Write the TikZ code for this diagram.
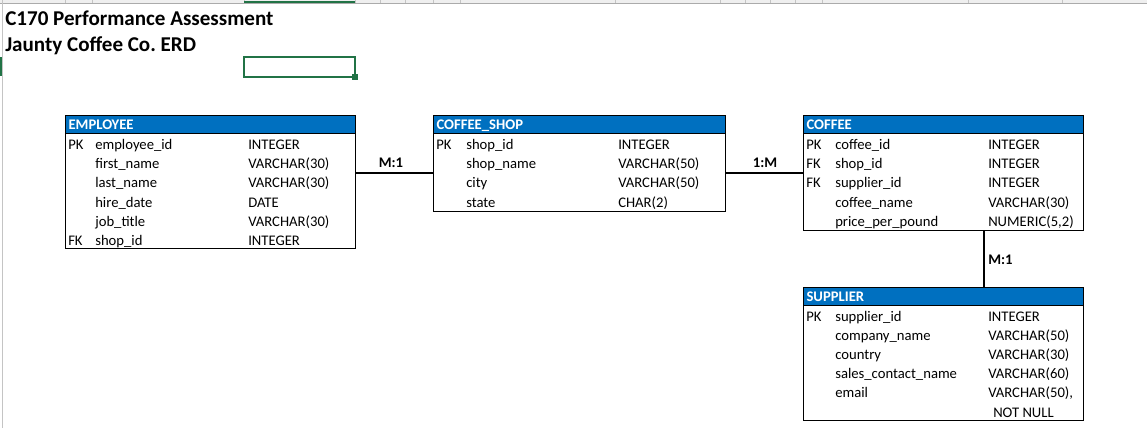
\documentclass[tikz,border=0pt]{standalone}
\usepackage{fontspec}
\setmainfont{Carlito}
\usepackage{tikz}
\usepackage{xcolor}
\usetikzlibrary{positioning}
\definecolor{hdrblue}{HTML}{0070C0}
\definecolor{selgreen}{HTML}{217346}
\definecolor{stripgray}{HTML}{EFEFEF}
\definecolor{rulegray}{HTML}{ABABAB}

\begin{document}
\begin{tikzpicture}[x=0.75pt, y=-0.75pt,
    tablebox/.style={draw=black, line width=0.8pt, rectangle, inner sep=0pt, anchor=north west},
    tablehead/.style={draw=black, line width=0.8pt, fill=hdrblue, rectangle, anchor=north west,
        inner xsep=2.25pt, inner ysep=0pt, minimum height=13.5pt, text height=8pt, text depth=0.5pt,
        align=left, text=white, font=\fontsize{11}{13}\selectfont\bfseries},
    cell/.style={anchor=base west, inner sep=0pt, font=\fontsize{11}{13}\selectfont},
    titletext/.style={anchor=base west, inner sep=0pt, font=\fontsize{15.8}{18}\selectfont\bfseries},
    relline/.style={line width=2pt},
    rellabel/.style={inner sep=0pt, font=\fontsize{11}{13}\selectfont\bfseries}]

    \useasboundingbox (0,0) rectangle (1147,428);

    % Spreadsheet frame: column header strip, row header edge, selected cell
    \fill[stripgray] (0,0) rectangle (1147,3.5);
    \draw[rulegray, line width=0.75pt] (0,3.5) -- (1147,3.5);
    \foreach \cx in {2,65,92,244,355,380,405,433,460,615,720,745,770,795,822,968,1062}
        \draw[rulegray!70, line width=0.5pt] (\cx,0) -- (\cx,3.5);
    \fill[selgreen] (244,1.5) rectangle (355,3.5);
    \draw[rulegray!70, line width=0.6pt] (2,3.5) -- (2,428);
    \fill[selgreen] (0,57) rectangle (2,76);
    \draw[selgreen, line width=1.5pt] (244,57) rectangle (355,77);
    \fill[selgreen] (352,74) rectangle (358,80);

    % Titles
    \node[titletext] (title1) at (5,26) {C170 Performance Assessment};
    \node[titletext] (title2) at (5,52) {Jaunty Coffee Co.\ ERD};

    % Table frames
    \node[tablebox, minimum width=217.5pt, minimum height=99.75pt] (employee) at (65,115) {};
    \node[tablebox, minimum width=219pt, minimum height=72pt] (coffeeshop) at (433,115) {};
    \node[tablebox, minimum width=210pt, minimum height=86.25pt] (coffee) at (803,115) {};
    \node[tablebox, minimum width=210pt, minimum height=99.75pt] (supplier) at (803,287) {};

    % Header bars
    \node[tablehead, text width=213pt] (employee-head) at (employee.north west) {EMPLOYEE};
    \node[tablehead, text width=214.5pt] (coffeeshop-head) at (coffeeshop.north west) {COFFEE\_SHOP};
    \node[tablehead, text width=205.5pt] (coffee-head) at (coffee.north west) {COFFEE};
    \node[tablehead, text width=205.5pt] (supplier-head) at (supplier.north west) {SUPPLIER};

    % EMPLOYEE rows
    \node[cell] (emp-key1) at (68,149.5) {PK};
    \node[cell] (emp-name1) at (95,149.5) {employee\_id};
    \node[cell] (emp-type1) at (248,149.5) {INTEGER};
    \node[cell] (emp-name2) at (95,168.7) {first\_name};
    \node[cell] (emp-type2) at (248,168.7) {VARCHAR(30)};
    \node[cell] (emp-name3) at (95,187.9) {last\_name};
    \node[cell] (emp-type3) at (248,187.9) {VARCHAR(30)};
    \node[cell] (emp-name4) at (95,207.1) {hire\_date};
    \node[cell] (emp-type4) at (248,207.1) {DATE};
    \node[cell] (emp-name5) at (95,226.3) {job\_title};
    \node[cell] (emp-type5) at (248,226.3) {VARCHAR(30)};
    \node[cell] (emp-key6) at (68,245.5) {FK};
    \node[cell] (emp-name6) at (95,245.5) {shop\_id};
    \node[cell] (emp-type6) at (248,245.5) {INTEGER};

    % COFFEE_SHOP rows
    \node[cell] (shop-key1) at (436,149.5) {PK};
    \node[cell] (shop-name1) at (466,149.5) {shop\_id};
    \node[cell] (shop-type1) at (618,149.5) {INTEGER};
    \node[cell] (shop-name2) at (466,168.7) {shop\_name};
    \node[cell] (shop-type2) at (618,168.7) {VARCHAR(50)};
    \node[cell] (shop-name3) at (466,187.9) {city};
    \node[cell] (shop-type3) at (618,187.9) {VARCHAR(50)};
    \node[cell] (shop-name4) at (466,207.1) {state};
    \node[cell] (shop-type4) at (618,207.1) {CHAR(2)};

    % COFFEE rows
    \node[cell] (cof-key1) at (806,149.5) {PK};
    \node[cell] (cof-name1) at (835,149.5) {coffee\_id};
    \node[cell] (cof-type1) at (988,149.5) {INTEGER};
    \node[cell] (cof-key2) at (806,168.7) {FK};
    \node[cell] (cof-name2) at (835,168.7) {shop\_id};
    \node[cell] (cof-type2) at (988,168.7) {INTEGER};
    \node[cell] (cof-key3) at (806,187.9) {FK};
    \node[cell] (cof-name3) at (835,187.9) {supplier\_id};
    \node[cell] (cof-type3) at (988,187.9) {INTEGER};
    \node[cell] (cof-name4) at (835,207.1) {coffee\_name};
    \node[cell] (cof-type4) at (988,207.1) {VARCHAR(30)};
    \node[cell] (cof-name5) at (835,226.3) {price\_per\_pound};
    \node[cell] (cof-type5) at (988,226.3) {NUMERIC(5,2)};

    % SUPPLIER rows
    \node[cell] (sup-key1) at (806,321.5) {PK};
    \node[cell] (sup-name1) at (835,321.5) {supplier\_id};
    \node[cell] (sup-type1) at (988,321.5) {INTEGER};
    \node[cell] (sup-name2) at (835,340.6) {company\_name};
    \node[cell] (sup-type2) at (988,340.6) {VARCHAR(50)};
    \node[cell] (sup-name3) at (835,359.7) {country};
    \node[cell] (sup-type3) at (988,359.7) {VARCHAR(30)};
    \node[cell] (sup-name4) at (835,378.8) {sales\_contact\_name};
    \node[cell] (sup-type4) at (988,378.8) {VARCHAR(60)};
    \node[cell] (sup-name5) at (835,397.9) {email};
    \node[cell] (sup-type5) at (988,397.9) {VARCHAR(50),};
    \node[cell] (sup-type6) at (993,417) {NOT NULL};

    % Relationships
    \coordinate (shoplink) at (394,173);
    \coordinate (supplink) at (984,258);
    \draw[relline] (employee.east |- shoplink) -- (coffeeshop.west |- shoplink);
    \draw[relline] (coffeeshop.east |- shoplink) -- (coffee.west |- shoplink);
    \draw[relline] (coffee.south -| supplink) -- (supplier.north -| supplink);
    \node[rellabel] (rel1) at (391,163) {M:1};
    \node[rellabel] (rel2) at (765,163) {1:M};
    \node[rellabel, anchor=west] (rel3) at (988,260) {M:1};

\end{tikzpicture}
\end{document}
